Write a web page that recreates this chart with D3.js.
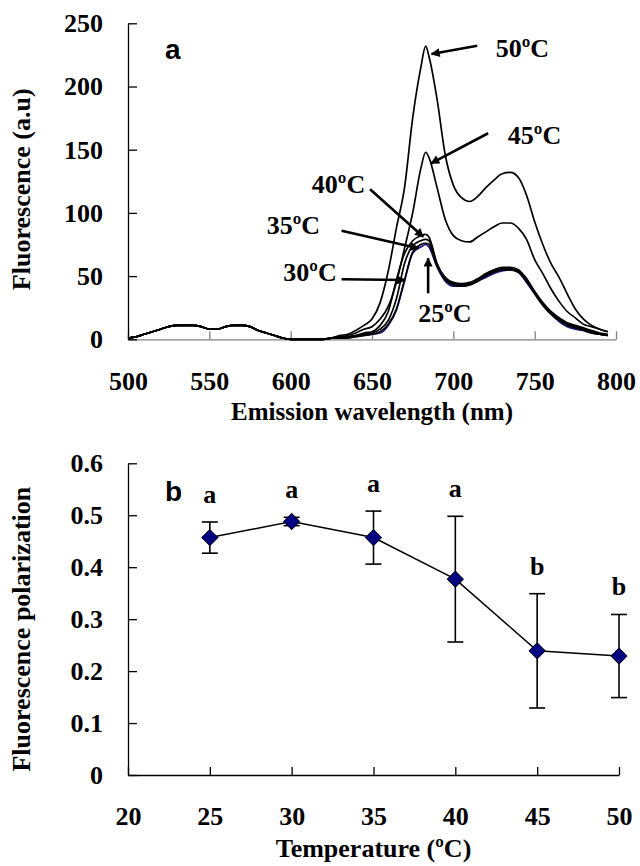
<!DOCTYPE html>
<html><head><meta charset="utf-8">
<script src="https://cdn.jsdelivr.net/npm/d3@7"></script>
<style>body{margin:0;background:#fff}svg{display:block}</style>
</head><body>
<script>
// ---------- Panel a data: emission spectra ----------
const wavelengths = [500,505,510,515,520,525,530,535,540,545,550,555,560,565,570,575,580,585,590,595,600,605,610,615,620,625,
  630,635,640,645,650,655,660,665,670,675,680,683,685,690,695,700,705,710,715,720,725,730,735,740,745,750,755,760,765,770,775,780,785,790,795];
const temps = ["25","30","35","40","45","50"];
const spec25 = [1,2,4,6,8,10,11,11,11,10,8,8,10,11,11,10,7,5,3,1,0,0,0,0,0,1,
  1,1,2,3,4,5,11,23,46,68,73,75,73,57,46,42,42,43,46,49,52,54,55,53,45,36,27,20,14,10,8,7,5,4,3];
const spec30 = [1,2,4,6,8,10,11,11,11,10,8,8,10,11,11,10,7,5,3,1,0,0,0,0,0,1,
  1,1,2,3,4,6,12,24,47,69,75,76,75,58,47,43,42,43,46,50,53,55,55,53,46,36,27,20,15,11,9,7,5,4,3];
const spec35 = [1,2,4,6,8,10,11,11,11,10,8,8,10,11,11,10,7,5,3,1,0,0,0,0,0,1,
  1,2,3,4,5,8,15,32,60,74,78,79,78,59,48,44,43,44,47,51,54,56,56,54,47,37,28,21,16,12,10,8,6,4,3];
const spec40 = [1,2,4,6,8,10,11,11,11,10,8,8,10,11,11,10,7,5,3,1,0,0,0,0,0,1,
  2,2,3,5,6,11,22,47,68,78,82,83,81,60,49,45,44,45,48,52,55,57,57,55,48,38,29,22,17,13,11,9,7,5,4];
const spec45 = [1,2,4,6,8,10,11,11,11,10,8,8,10,11,11,10,7,5,3,1,0,0,0,0,0,1,
  2,3,5,8,10,16,26,45,72,100,135,148,144,120,95,82,78,77,81,85,89,92,92,88,79,63,52,40,30,22,17,12,10,8,6];
const spec50 = [1,2,4,6,8,10,11,11,11,10,8,8,10,11,11,10,7,5,3,1,0,0,0,0,0,1,
  3,4,7,11,16,29,54,88,120,175,215,232,224,190,146,122,112,109,113,120,126,131,132,128,114,93,75,60,49,36,24,16,11,8,6];
const specTicksX = [500,550,600,650,700,750,800];
const specTicksY = [0,50,100,150,200,250];
// annotation labels (data units): label position, arrow start, arrow end
const specLabels = ["50ºC","45ºC","40ºC","35ºC","30ºC","25ºC"];
const labelAt   = [[726,223],[733.5,154.5],[613,115.7],[585.3,83.3],[595.5,46.1],[678.4,13.7]];
const arrowFrom = [[714.7,232.3],[721.4,163],[648.8,118.7],[631.3,85.9],[631.3,47.5],[684.5,36.4]];
const arrowTo   = [[686.6,225.7],[686.3,139.2],[681.5,81.2],[678.5,72],[670.3,46.9],[684.5,64.1]];

// ---------- Panel b data: polarization ----------
const polTemps = [25,30,35,40,45,50];
const polMean  = [0.457,0.488,0.457,0.377,0.239,0.229];
const polErr   = [0.030,0.008,0.051,0.121,0.110,0.080];
const polLetters = ["a","a","a","a","b","b"];
const polTicksX = [20,25,30,35,40,45,50];
const polTicksY = [0,0.1,0.2,0.3,0.4,0.5,0.6];

const W = 640, H = 866;
const serif = "'Liberation Serif','Times New Roman',serif";
const sans = "'Liberation Sans',Arial,sans-serif";
const svg = d3.select("body").append("svg").attr("width", W).attr("height", H);
svg.append("defs").append("marker")
  .attr("id","ah").attr("viewBox","0 0 10 10").attr("refX",9).attr("refY",5)
  .attr("markerWidth",11).attr("markerHeight",9).attr("markerUnits","userSpaceOnUse")
  .attr("orient","auto")
  .append("path").attr("d","M0,0L10,5L0,10z").attr("fill","#000");

function styleAxis(g, color){
  g.selectAll("path.domain").attr("stroke", color).attr("stroke-width", 1.3);
  g.selectAll(".tick line").attr("stroke", color).attr("stroke-width", 1.3);
  g.selectAll(".tick text").attr("fill","#000").attr("font-family", serif)
    .attr("font-weight","bold").attr("font-size", 26);
}

// ---------- Panel a ----------
const xa = d3.scaleLinear().domain([500,800]).range([128,616]);
const ya = d3.scaleLinear().domain([0,250]).range([339.3,23.3]);
const gxa = svg.append("g").attr("transform",`translate(0,${ya(0)})`)
  .call(d3.axisBottom(xa).tickValues(specTicksX).tickSize(-8).tickSizeOuter(0).tickPadding(32).tickFormat(d3.format("d")));
styleAxis(gxa, "#808080");
const gya = svg.append("g").attr("transform",`translate(${xa(500)},0)`)
  .call(d3.axisLeft(ya).tickValues(specTicksY).tickSize(-9).tickSizeOuter(0).tickPadding(25).tickFormat(d3.format("d")));
styleAxis(gya, "#000");

const allSpec = [spec25,spec30,spec35,spec40,spec45,spec50];
const lineA = d3.line().x((d,i)=>xa(wavelengths[i])).y(d=>ya(d)).curve(d3.curveMonotoneX);
[0,5,4,3,2,1].forEach(k=>{
  svg.append("path").attr("d", lineA(allSpec[k])).attr("fill","none")
    .attr("stroke", k===0 ? "#1a1a8c" : "#000").attr("stroke-width", 1.7)
    .attr("stroke-linejoin","round");
});
specLabels.forEach((t,i)=>{
  svg.append("line").attr("x1",xa(arrowFrom[i][0])).attr("y1",ya(arrowFrom[i][1]))
    .attr("x2",xa(arrowTo[i][0])).attr("y2",ya(arrowTo[i][1]))
    .attr("stroke","#000").attr("stroke-width",2.6).attr("marker-end","url(#ah)");
  svg.append("text").attr("x",xa(labelAt[i][0])).attr("y",ya(labelAt[i][1]))
    .attr("font-family",serif).attr("font-weight","bold").attr("font-size",26).text(t);
});
svg.append("text").attr("x",165).attr("y",ya(222)).attr("font-family",sans)
  .attr("font-weight","bold").attr("font-size",28).text("a");
svg.append("text").attr("x",(xa(500)+xa(800))/2).attr("y",420).attr("text-anchor","middle")
  .attr("font-family",serif).attr("font-weight","bold").attr("font-size",25).text("Emission wavelength (nm)");
svg.append("text").attr("transform",`translate(30,${(ya(0)+ya(250))/2 + 8}) rotate(-90)`).attr("text-anchor","middle")
  .attr("font-family",serif).attr("font-weight","bold").attr("font-size",26).text("Fluorescence (a.u)");

// ---------- Panel b ----------
const xb = d3.scaleLinear().domain([20,50]).range([128,619]);
const yb = d3.scaleLinear().domain([0,0.6]).range([775,463.3]);
const gxb = svg.append("g").attr("transform",`translate(0,${yb(0)})`)
  .call(d3.axisBottom(xb).tickValues(polTicksX).tickSize(-8).tickSizeOuter(0).tickPadding(32).tickFormat(d3.format("d")));
styleAxis(gxb, "#000");
const gyb = svg.append("g").attr("transform",`translate(${xb(20)},0)`)
  .call(d3.axisLeft(yb).tickValues(polTicksY).tickSize(-9).tickSizeOuter(0).tickPadding(25)
    .tickFormat(d=> d===0 ? "0" : d3.format(".1f")(d)));
styleAxis(gyb, "#000");

svg.append("path").attr("d", d3.line().x((d,i)=>xb(polTemps[i])).y(d=>yb(d))(polMean))
  .attr("fill","none").attr("stroke","#000").attr("stroke-width",1.5);
polMean.forEach((m,i)=>{
  const x = xb(polTemps[i]), y1 = yb(m+polErr[i]), y2 = yb(m-polErr[i]);
  const g = svg.append("g").attr("stroke","#000").attr("stroke-width",1.6);
  g.append("line").attr("x1",x).attr("x2",x).attr("y1",y1).attr("y2",y2);
  g.append("line").attr("x1",x-8).attr("x2",x+8).attr("y1",y1).attr("y2",y1);
  g.append("line").attr("x1",x-8).attr("x2",x+8).attr("y1",y2).attr("y2",y2);
  svg.append("text").attr("x",x).attr("y",y1-19).attr("text-anchor","middle")
    .attr("font-family",serif).attr("font-weight","bold").attr("font-size",26).text(polLetters[i]);
});
svg.selectAll("path.dia").data(polMean).enter().append("path")
  .attr("d", d3.symbol(d3.symbolDiamond2 || d3.symbolDiamond, 170)())
  .attr("transform",(d,i)=>`translate(${xb(polTemps[i])},${yb(d)})`)
  .attr("fill","#000080").attr("stroke","#000").attr("stroke-width",1);
svg.append("text").attr("x",165).attr("y",501).attr("font-family",sans)
  .attr("font-weight","bold").attr("font-size",28).text("b");
svg.append("text").attr("x",(xb(20)+xb(50))/2).attr("y",857).attr("text-anchor","middle")
  .attr("font-family",serif).attr("font-weight","bold").attr("font-size",26).text("Temperature (ºC)");
svg.append("text").attr("transform",`translate(30,${(yb(0)+yb(0.6))/2 + 10}) rotate(-90)`).attr("text-anchor","middle")
  .attr("font-family",serif).attr("font-weight","bold").attr("font-size",26).text("Fluorescence polarization");
</script>
</body></html>
